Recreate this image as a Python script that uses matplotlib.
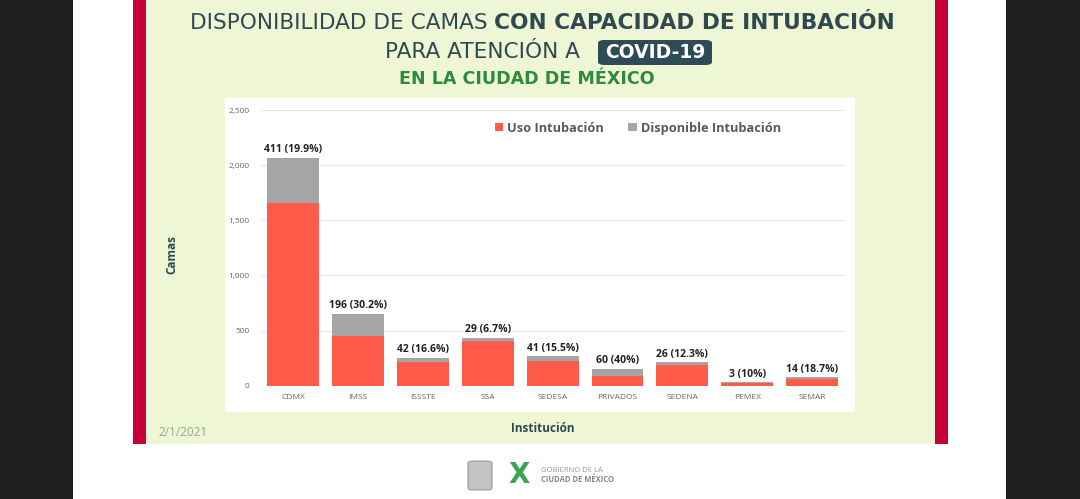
import matplotlib
matplotlib.use("Agg")
import matplotlib.pyplot as plt
from matplotlib.patches import Rectangle, FancyBboxPatch
from matplotlib.ticker import FuncFormatter

# ---- data ----
instituciones = ["CDMX", "IMSS", "ISSSTE", "SSA", "SEDESA", "PRIVADOS", "SEDENA", "PEMEX", "SEMAR"]
uso_intubacion = [1654, 453, 211, 404, 224, 90, 185, 27, 61]
disponible_intubacion = [411, 196, 42, 29, 41, 60, 26, 3, 14]
pct_disponible = ["19.9%", "30.2%", "16.6%", "6.7%", "15.5%", "40%", "12.3%", "10%", "18.7%"]
yticks = [0, 500, 1000, 1500, 2000, 2500]

W, H = 1080, 499
fig = plt.figure(figsize=(W / 100, H / 100), dpi=100)
fig.patch.set_facecolor("white")
renderer = fig.canvas.get_renderer()

def px(x0, y0, w, h):
    return (x0 / W, 1 - (y0 + h) / H, w / W, h / H)

def rect(x0, y0, w, h, color, z=-2):
    l, b, ww, hh = px(x0, y0, w, h)
    fig.patches.append(Rectangle((l, b), ww, hh, transform=fig.transFigure,
                                 facecolor=color, edgecolor="none", zorder=z))

BLACK = "#1e1e20"
GREEN_BG = "#eef6d6"
CRIMSON = "#c8003a"
rect(0, 0, 73, H, BLACK)
rect(1006, 0, 74, H, BLACK)
rect(146, 0, 789, 444, GREEN_BG)
rect(133, 0, 13, 444, CRIMSON)
rect(935, 0, 13, 444, CRIMSON)
rect(225, 98, 630, 314, "white")

TITLE_C = "#2f4a4f"
def fx(x):
    return x / W
def fy(y):
    return 1 - y / H

def text_w(t):
    return t.get_window_extent(renderer=renderer).width

TFAM = "DejaVu Sans"
TSIZE = 15.6
# Title line 1 (regular + bold, laid out left to right)
t1 = fig.text(fx(190), fy(23), "DISPONIBILIDAD DE CAMAS ", fontsize=TSIZE, color=TITLE_C,
              family=TFAM, ha="left", va="center")
t2 = fig.text(fx(190) + text_w(t1) / W, fy(23), "CON CAPACIDAD DE INTUBACIÓN", fontsize=TSIZE,
              color=TITLE_C, family=TFAM, weight="bold", ha="left", va="center")
# Title line 2
fig.text(fx(580), fy(52), "PARA ATENCIÓN A", fontsize=TSIZE, color=TITLE_C,
         family=TFAM, ha="right", va="center")
l, b, ww, hh = px(598, 40, 114, 25)
fig.patches.append(FancyBboxPatch((l, b), ww, hh, boxstyle="round,pad=0,rounding_size=0.006",
                                  transform=fig.transFigure, facecolor="#2f4c56",
                                  edgecolor="none", zorder=1))
fig.text(fx(655), fy(52.5), "COVID-19", fontsize=13.5, color="white",
         family=TFAM, weight="bold", ha="center", va="center", zorder=2)
fig.text(fx(527), fy(79), "EN LA CIUDAD DE MÉXICO", fontsize=12.6, color="#2e8b3c",
         family=TFAM, weight="bold", ha="center", va="center")

# chart axes
ax = fig.add_axes(px(260.6, 110, 584, 275.7))
ax.set_zorder(3)
ax.set_facecolor("none")
x = range(len(instituciones))
RED = "#fe5b4b"
GRAY = "#a5a5a5"
ax.bar(x, uso_intubacion, width=0.8, color=RED, label="Uso Intubación", zorder=2)
ax.bar(x, disponible_intubacion, width=0.8, bottom=uso_intubacion, color=GRAY,
       label="Disponible Intubación", zorder=2)
for i, (u, d, p) in enumerate(zip(uso_intubacion, disponible_intubacion, pct_disponible)):
    ax.text(i, u + d + 25, f"{d} ({p})", ha="center", va="bottom", fontsize=7.5,
            weight="bold", color="#222222", family="Open Sans")
ax.set_xlim(-0.5, len(instituciones) - 0.5)
ax.set_ylim(0, 2500)
ax.set_yticks(yticks)
ax.yaxis.set_major_formatter(FuncFormatter(lambda v, _: f"{int(v):,}"))
ax.set_xticks(list(x))
ax.set_xticklabels(instituciones)
ax.tick_params(axis="both", length=0, labelsize=6, labelcolor="#666666")
ax.tick_params(axis="y", pad=8)
ax.tick_params(axis="x", pad=6)
for lab in ax.get_xticklabels() + ax.get_yticklabels():
    lab.set_family("Open Sans")
ax.grid(axis="y", color="#e6e6e6", linewidth=0.8, zorder=0)
for s in ax.spines.values():
    s.set_visible(False)
leg = ax.legend(loc="upper center", bbox_to_anchor=(0.646, 1.0), ncol=2, frameon=False,
                handlelength=0.65, handleheight=0.65, columnspacing=1.9,
                handletextpad=0.35, prop={"family": "Open Sans", "weight": "bold", "size": 9.2})
for t in leg.get_texts():
    t.set_color("#595959")

fig.text(fx(172), fy(255), "Camas", rotation=90, fontsize=8.5, weight="bold",
         color=TITLE_C, family="Open Sans", ha="center", va="center")
fig.text(fx(543), fy(428), "Institución", fontsize=8.5, weight="bold",
         color=TITLE_C, family="Open Sans", ha="center", va="center")
fig.text(fx(158), fy(432), "2/1/2021", fontsize=8.5, color="#9aa38e",
         family="Open Sans", ha="left", va="center")

# footer logo (simplified)
l, b, ww, hh = px(468, 461, 24, 29)
fig.patches.append(FancyBboxPatch((l, b), ww, hh, boxstyle="round,pad=0,rounding_size=0.004",
                                  transform=fig.transFigure, facecolor="#c4c4c4",
                                  edgecolor="#8a8a8a", linewidth=0.6))
fig.text(fx(519), fy(475), "X", fontsize=20, weight="bold", color="#3aa655",
         family="DejaVu Sans", ha="center", va="center")
fig.text(fx(541), fy(470), "GOBIERNO DE LA", fontsize=5.5, color="#999999",
         family="Open Sans", ha="left", va="center")
fig.text(fx(541), fy(480), "CIUDAD DE MÉXICO", fontsize=5.5, color="#888888",
         weight="bold", family="Open Sans", ha="left", va="center")

fig.savefig("out.png", dpi=100, facecolor=fig.get_facecolor())
